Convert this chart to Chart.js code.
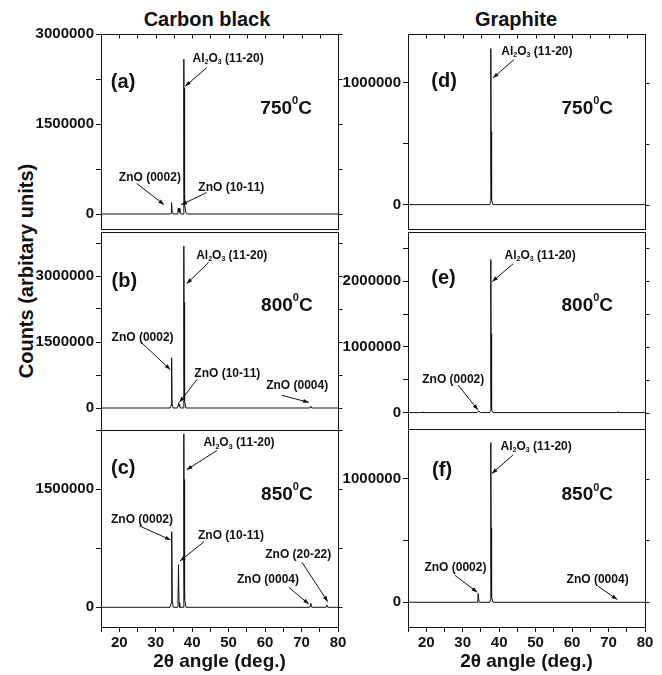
<!DOCTYPE html>
<html>
<head>
<meta charset="utf-8">
<script src="https://cdn.jsdelivr.net/npm/chart.js@4.4.1/dist/chart.umd.min.js"></script>
<style>
  html, body { margin: 0; padding: 0; background: #fff; overflow: hidden; }
  #wrap { position: relative; width: 662px; height: 675px; overflow: hidden; }
  #wrap canvas { position: absolute; }
  .lbl { position: absolute; transform: translate(-50%, -50%); white-space: nowrap; color: #111;
         font: bold 20px "Liberation Sans", Arial, Helvetica, sans-serif; line-height: 20px; }
  #ytitle { transform: translate(-50%, -50%) rotate(-90deg); }
</style>
</head>
<body>
<div id="wrap">
  <div class="lbl" style="left:207px;top:19px">Carbon black</div>
  <div class="lbl" style="left:516px;top:19px">Graphite</div>
  <div class="lbl" id="ytitle" style="left:26px;top:271px">Counts (arbitary units)</div>
  <canvas id="pa" width="350" height="240" style="left:0;top:0"></canvas>
  <canvas id="pb" width="350" height="222" style="left:0;top:220px"></canvas>
  <canvas id="pc" width="350" height="257" style="left:0;top:418px"></canvas>
  <canvas id="pd" width="322" height="240" style="left:340px;top:0"></canvas>
  <canvas id="pe" width="322" height="221" style="left:340px;top:220px"></canvas>
  <canvas id="pf" width="322" height="258" style="left:340px;top:417px"></canvas>
</div>
<script>
var FONT = '"Liberation Sans", Arial, Helvetica, sans-serif';
var INK = '#111';

// 2theta axis ticks (deg)
var thetaTicks = [15, 20, 25, 30, 35, 40, 45, 50, 55, 60, 65, 70, 75, 80];

// scans: [2theta, counts]
// carbon black
var scanA = [[15,0],[33.95,0],[34.2,15000],[34.35,190000],[34.5,30000],[34.75,0],
  [35.9,0],[36.1,60000],[36.22,100000],[36.35,40000],[36.5,90000],[36.65,20000],[36.9,0],
  [37.5,0],[37.72,2580000],[37.8,600000],[37.86,2100000],[38.0,150000],[38.3,20000],[38.6,0],[80,0]];
var scanB = [[15,0],[33.95,0],[34.2,60000],[34.37,1140000],[34.5,100000],[34.75,0],
  [35.95,0],[36.15,60000],[36.28,120000],[36.4,40000],[36.55,80000],[36.75,0],
  [37.5,0],[37.72,3680000],[37.8,900000],[37.86,2400000],[38.0,150000],[38.3,0],
  [72.3,0],[72.55,40000],[72.8,0],[80,0]];
var scanC = [[15,0],[33.95,0],[34.2,50000],[34.4,960000],[34.55,80000],[34.8,0],
  [35.9,0],[36.1,40000],[36.25,540000],[36.4,60000],[36.6,0],
  [37.5,0],[37.72,2200000],[37.8,500000],[37.86,1620000],[38.0,100000],[38.3,0],
  [72.3,0],[72.55,50000],[72.8,0],[76.7,0],[76.95,30000],[77.2,0],[80,0]];
// graphite
var scanD = [[15,0],[37.4,0],[37.6,20000],[37.72,1280000],[37.8,300000],[37.86,600000],[38.0,40000],[38.3,0],[80,0]];
var scanE = [[15,0],[18.9,0],[19.0,12000],[19.1,0],[33.9,0],[34.2,15000],[34.4,25000],[34.6,10000],[34.9,0],
  [37.45,0],[37.6,30000],[37.72,2330000],[37.8,400000],[37.86,1200000],[38.0,40000],[38.3,0],
  [72.5,0],[72.6,12000],[72.7,0],[80,0]];
var scanF = [[15,0],[34.1,0],[34.25,70000],[34.4,70000],[34.5,0],
  [37.45,0],[37.6,20000],[37.72,1290000],[37.8,300000],[37.86,600000],[38.0,40000],[38.3,0],[80,0]];

// y ranges and ticks (every other tick labelled)
var rangeA = [-250000, 3000000], ticksA = [0, 750000, 1500000, 2250000, 3000000];
var rangeB = [-500000, 4000000], ticksB = [0, 750000, 1500000, 2250000, 3000000, 3750000];
var rangeC = [-250000, 2250000], ticksC = [0, 750000, 1500000, 2250000];
var rangeD = [-200000, 1400000], ticksD = [0, 500000, 1000000];
var rangeE = [-250000, 2750000], ticksE = [0, 500000, 1000000, 1500000, 2000000, 2500000];
var rangeF = [-200000, 1400000], ticksF = [0, 500000, 1000000];

// labels: [text, 2theta, counts, size]  (^ = superscript, _ = subscript next char)
var notesA = [['(a)', 17.7, 2200000, 20], ['750^0C', 58.7, 1760000, 19],
  ['Al_2O_3 (11-20)', 40.1, 2585000, 12], ['ZnO (0002)', 19.9, 600000, 12], ['ZnO (10-11)', 41.7, 440000, 12]];
var arrowsA = [[44.05, 2440000, 38.1, 2130000], [24.8, 510000, 32.3, 155000], [44.0, 357000, 37.0, 155000]];

var notesB = [['(b)', 17.9, 2886000, 20], ['800^0C', 58.9, 2325000, 19],
  ['Al_2O_3 (11-20)', 41.1, 3470000, 12], ['ZnO (0002)', 17.9, 1596000, 12],
  ['ZnO (10-11)', 40.6, 782000, 12], ['ZnO (0004)', 60.3, 508000, 12]];
var arrowsB = [[44.5, 3305000, 38.5, 2826000], [26.2, 1480000, 34.0, 873000],
  [41.3, 645000, 36.5, 128000], [64.6, 287000, 72.0, 128000]];

var notesC = [['(c)', 17.75, 1758000, 20], ['850^0C', 58.9, 1427000, 19],
  ['Al_2O_3 (11-20)', 43.1, 2085000, 12], ['ZnO (0002)', 17.75, 1118000, 12],
  ['ZnO (10-11)', 41.6, 906000, 12], ['ZnO (0004)', 52.3, 347000, 12], ['ZnO (20-22)', 60.05, 665000, 12]];
var arrowsC = [[46.8, 1990000, 38.5, 1745000], [25.5, 1033000, 34.1, 855000],
  [43.3, 834000, 36.7, 589000], [66.5, 254000, 72.0, 42000], [70.1, 572000, 77.2, 71000]];

var notesD = [['(d)', 21.4, 1013000, 20], ['750^0C', 57.1, 790000, 19], ['Al_2O_3 (11-20)', 40.6, 1255000, 12]];
var arrowsD = [[44.07, 1190000, 38.3, 1040000]];

var notesE = [['(e)', 21.4, 2036000, 20], ['800^0C', 57.1, 1632000, 19],
  ['Al_2O_3 (11-20)', 41.5, 2390000, 12], ['ZnO (0002)', 18.9, 506000, 12]];
var arrowsE = [[43.8, 2264000, 38.1, 1995000], [28.7, 420000, 34.2, 41000]];

var notesF = [['(f)', 21.6, 1062000, 20], ['850^0C', 57.1, 865000, 19],
  ['Al_2O_3 (11-20)', 40.4, 1260000, 12], ['ZnO (0002)', 19.5, 278000, 12], ['ZnO (0004)', 58.5, 184000, 12]];
var arrowsF = [[43.8, 1190000, 38.0, 1040000], [27.8, 219000, 34.0, 81000], [67.1, 130000, 72.4, 22000]];

function drawRich(ctx, str, x, y, size) {
  ctx.textBaseline = 'middle';
  ctx.textAlign = 'left';
  var i = 0;
  while (i < str.length) {
    var c = str[i], fs = size, dy = 0;
    if (c === '^' || c === '_') {
      fs = Math.round(size * 0.6);
      dy = c === '^' ? -size * 0.4 : size * 0.3;
      i++;
      c = str[i];
    }
    ctx.font = 'bold ' + fs + 'px ' + FONT;
    ctx.fillText(c, x, y + dy);
    x += ctx.measureText(c).width;
    i++;
  }
}

function deco(notes, arrows, topTicks) {
  return {
    id: 'deco',
    afterDraw: function (chart) {
      var ctx = chart.ctx, xs = chart.scales.x, ys = chart.scales.y, a = chart.chartArea;
      var L = Math.round(a.left) + 0.5, R = Math.round(a.right) + 0.5;
      var T = Math.round(a.top) + 0.5, B = Math.round(a.bottom) + 0.5;
      ctx.save();
      ctx.strokeStyle = INK;
      ctx.fillStyle = INK;
      ctx.lineWidth = 1;
      ctx.strokeRect(L, T, R - L, B - T);
      ctx.beginPath();
      ys.ticks.forEach(function (t) {
        var py = Math.round(ys.getPixelForValue(t.value)) + 0.5;
        ctx.moveTo(R, py); ctx.lineTo(R + 4, py);
      });
      if (topTicks) {
        xs.ticks.forEach(function (t) {
          var px = Math.round(xs.getPixelForValue(t.value)) + 0.5;
          ctx.moveTo(px, T); ctx.lineTo(px, T + 4);
        });
      }
      ctx.stroke();
      arrows.forEach(function (r) {
        var x1 = xs.getPixelForValue(r[0]), y1 = ys.getPixelForValue(r[1]);
        var x2 = xs.getPixelForValue(r[2]), y2 = ys.getPixelForValue(r[3]);
        ctx.beginPath(); ctx.moveTo(x1, y1); ctx.lineTo(x2, y2); ctx.stroke();
        var ang = Math.atan2(y2 - y1, x2 - x1), h = 6;
        ctx.beginPath();
        ctx.moveTo(x2, y2);
        ctx.lineTo(x2 - h * Math.cos(ang - 0.35), y2 - h * Math.sin(ang - 0.35));
        ctx.lineTo(x2 - h * Math.cos(ang + 0.35), y2 - h * Math.sin(ang + 0.35));
        ctx.closePath(); ctx.fill();
      });
      notes.forEach(function (n) {
        drawRich(ctx, n[0], xs.getPixelForValue(n[1]), ys.getPixelForValue(n[2]), n[3]);
      });
      ctx.restore();
    }
  };
}

function panel(id, scan, range, yTicks, notes, arrows, o) {
  var tickFont = { family: FONT, size: 15, weight: 'bold' };
  new Chart(document.getElementById(id), {
    type: 'line',
    data: {
      datasets: [{ data: scan, borderColor: INK, borderWidth: 1, pointRadius: 0, tension: 0, fill: false }]
    },
    options: {
      responsive: false,
      animation: false,
      events: [],
      layout: { padding: { top: o.padTop, bottom: o.padBottom, left: 0, right: o.padRight } },
      plugins: { legend: { display: false }, tooltip: { enabled: false } },
      scales: {
        x: {
          type: 'linear', min: 15, max: 80, display: o.showX,
          afterBuildTicks: function (s) { s.ticks = thetaTicks.map(function (v) { return { value: v }; }); },
          afterFit: function (s) { s.height = o.showX ? 48 : 0; },
          border: { display: false },
          grid: { drawOnChartArea: false, tickLength: 5, color: INK },
          ticks: {
            color: INK, padding: 2, maxRotation: 0, autoSkip: false, font: tickFont,
            callback: function (v) { return v % 10 === 0 ? String(v) : ''; }
          },
          title: {
            display: true, text: '2θ angle (deg.)', color: INK,
            font: { family: FONT, size: 19, weight: 'bold' }, padding: { top: 0, bottom: 2 }
          }
        },
        y: {
          type: 'linear', min: range[0], max: range[1],
          afterBuildTicks: function (s) { s.ticks = yTicks.map(function (v) { return { value: v }; }); },
          afterFit: function (s) { s.width = o.yWidth; },
          border: { display: false },
          grid: { drawOnChartArea: false, tickLength: 5, color: INK },
          ticks: {
            color: INK, padding: 2, autoSkip: false, font: tickFont,
            callback: function (v, i) { return i % 2 === 0 ? String(v) : ''; }
          }
        }
      }
    },
    plugins: [deco(notes, arrows, o.topTicks)]
  });
}

var leftTop = { padTop: 34, padBottom: 8, padRight: 12, yWidth: 101, showX: false, topTicks: true };
var leftMid = { padTop: 12, padBottom: 12, padRight: 12, yWidth: 101, showX: false, topTicks: false };
var leftBot = { padTop: 12, padBottom: 0, padRight: 12, yWidth: 101, showX: true, topTicks: false };
var rightTop = { padTop: 34, padBottom: 8, padRight: 17, yWidth: 68, showX: false, topTicks: true };
var rightMid = { padTop: 12, padBottom: 12, padRight: 17, yWidth: 68, showX: false, topTicks: false };
var rightBot = { padTop: 12, padBottom: 0, padRight: 17, yWidth: 68, showX: true, topTicks: false };

panel('pa', scanA, rangeA, ticksA, notesA, arrowsA, leftTop);
panel('pb', scanB, rangeB, ticksB, notesB, arrowsB, leftMid);
panel('pc', scanC, rangeC, ticksC, notesC, arrowsC, leftBot);
panel('pd', scanD, rangeD, ticksD, notesD, arrowsD, rightTop);
panel('pe', scanE, rangeE, ticksE, notesE, arrowsE, rightMid);
panel('pf', scanF, rangeF, ticksF, notesF, arrowsF, rightBot);
</script>
</body>
</html>
